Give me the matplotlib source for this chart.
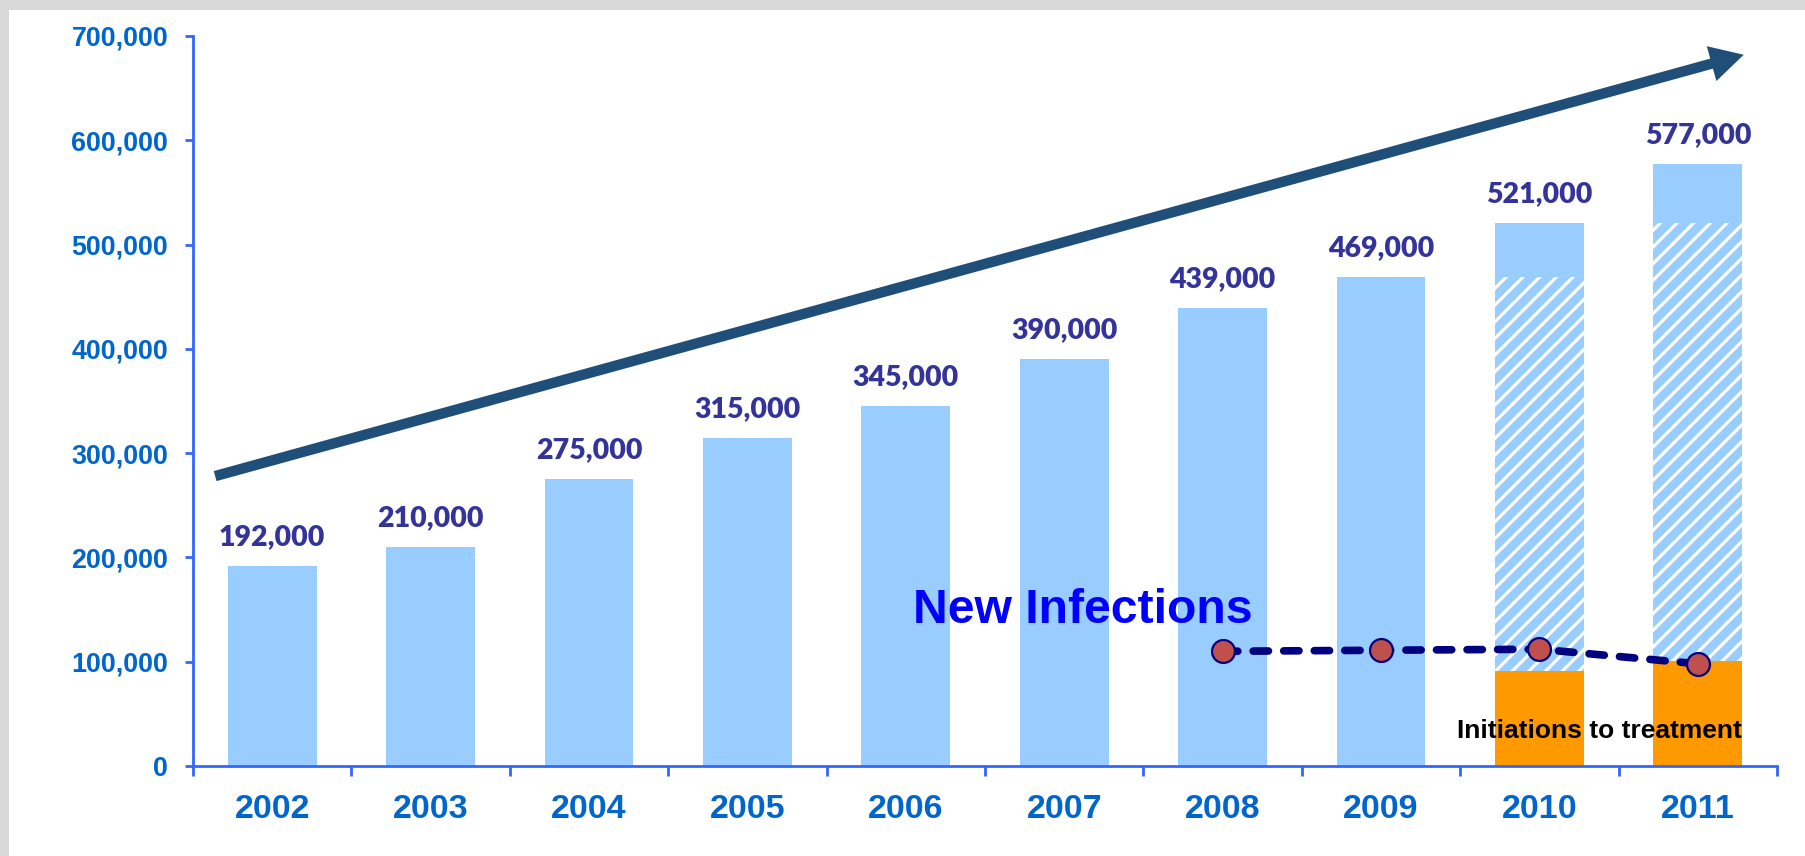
import matplotlib
matplotlib.use("Agg")
import matplotlib.pyplot as plt
from matplotlib.patches import Rectangle
import numpy as np

# ---------------- data ----------------
years = ["2002", "2003", "2004", "2005", "2006", "2007", "2008", "2009", "2010", "2011"]
totals = [192000, 210000, 275000, 315000, 345000, 390000, 439000, 469000, 521000, 577000]
total_labels = ["192,000", "210,000", "275,000", "315,000", "345,000",
                "390,000", "439,000", "469,000", "521,000", "577,000"]
# hatched part (previous cumulative) for the last two years
hatched_years = ["2010", "2011"]
hatched_values = [469000, 521000]
# initiations to treatment
init_years = ["2010", "2011"]
init_values = [91000, 101000]
# new infections
infection_years = ["2008", "2009", "2010", "2011"]
infection_values = [110000, 111000, 112000, 98000]
y_ticks = [0, 100000, 200000, 300000, 400000, 500000, 600000, 700000]

# trend arrow (start / end, data coords)
arrow_start = (-0.36, 278000)
arrow_end = (9.29, 682000)

# ---------------- style ----------------
plt.rcParams["font.family"] = ["Liberation Sans", "DejaVu Sans"]
plt.rcParams["font.weight"] = "bold"
plt.rcParams["hatch.linewidth"] = 2.3

LIGHT_BLUE = "#99CCFF"
ORANGE = "#FF9900"
AXIS_BLUE = "#3366FF"
TICK_TEXT = "#0066CC"
LABEL_COLOR = "#333399"
ARROW_COLOR = "#1F4E79"

W, H = 1805, 856
fig = plt.figure(figsize=(W / 100, H / 100), dpi=100, facecolor="#D9D9D9")
fig.patches.append(Rectangle((9 / W, 0), 1, 1 - 10 / H, transform=fig.transFigure,
                             facecolor="white", edgecolor="none", zorder=-10))

ax = fig.add_axes([193 / W, 90 / H, (1777 - 193) / W, 730 / H])
ax.set_facecolor("none")

x = np.arange(len(years))
bw = 0.56
ax.bar(x, totals, width=bw, color=LIGHT_BLUE, linewidth=0, zorder=2)

hx = [years.index(y) for y in hatched_years]
ax.bar(hx, hatched_values, width=bw, color=LIGHT_BLUE, edgecolor="white",
       linewidth=0, hatch="//", zorder=3)

ix = [years.index(y) for y in init_years]
ax.bar(ix, init_values, width=bw, color=ORANGE, linewidth=0, zorder=4)

for xi, v, lab in zip(x, totals, total_labels):
    ax.annotate(lab, (xi, v), xytext=(0, 15), textcoords="offset points",
                ha="center", va="baseline", fontsize=20.5, color=LABEL_COLOR,
                family=["Lato", "DejaVu Sans"], fontweight="heavy", zorder=6)

fx = [years.index(y) for y in infection_years]
ax.plot(fx, infection_values, color="#000080", lw=5.5, ls=(0, (2.0, 2.0)),
        dash_capstyle="round", zorder=7)
ax.plot(fx, infection_values, ls="none", marker="o", ms=16.5, mfc="#C0504D",
        mec="#000080", mew=1.6, zorder=8)

ax.text(5.12, 137000, "New Infections", ha="center", va="baseline",
        fontsize=34.7, color="#0000FF", fontweight="bold", zorder=9)
ax.text(8.38, 26800, "Initiations to treatment", ha="center", va="baseline",
        fontsize=19, color="black", fontweight="bold", zorder=9)

ax.annotate("", xy=arrow_end, xytext=arrow_start,
            arrowprops=dict(arrowstyle="simple,head_length=2.4,head_width=2.6,tail_width=0.75",
                            mutation_scale=10, color=ARROW_COLOR, shrinkA=0, shrinkB=0,
                            lw=0),
            zorder=10)

ax.set_xlim(-0.5, len(years) - 0.5)
ax.set_ylim(0, 700000)

for s in ["top", "right"]:
    ax.spines[s].set_visible(False)
for s in ["left", "bottom"]:
    ax.spines[s].set_color(AXIS_BLUE)
    ax.spines[s].set_linewidth(2.0)
    ax.spines[s].set_zorder(11)

ax.set_yticks(y_ticks)
ax.set_yticklabels([f"{v:,}" for v in y_ticks])
ax.tick_params(axis="y", direction="out", length=5.8, width=2.0, color=AXIS_BLUE,
               labelcolor=TICK_TEXT, labelsize=19.4, pad=12)

ax.set_xticks(np.arange(-0.5, len(years), 1.0))
ax.set_xticklabels([])
ax.tick_params(axis="x", which="major", direction="out", length=7, width=2.0, color=AXIS_BLUE)
ax.set_xticks(x, minor=True)
ax.set_xticklabels(years, minor=True)
ax.tick_params(axis="x", which="minor", length=0, labelcolor=TICK_TEXT,
               labelsize=24.5, pad=20)

fig.savefig("out.png", dpi=100, facecolor=fig.get_facecolor())
